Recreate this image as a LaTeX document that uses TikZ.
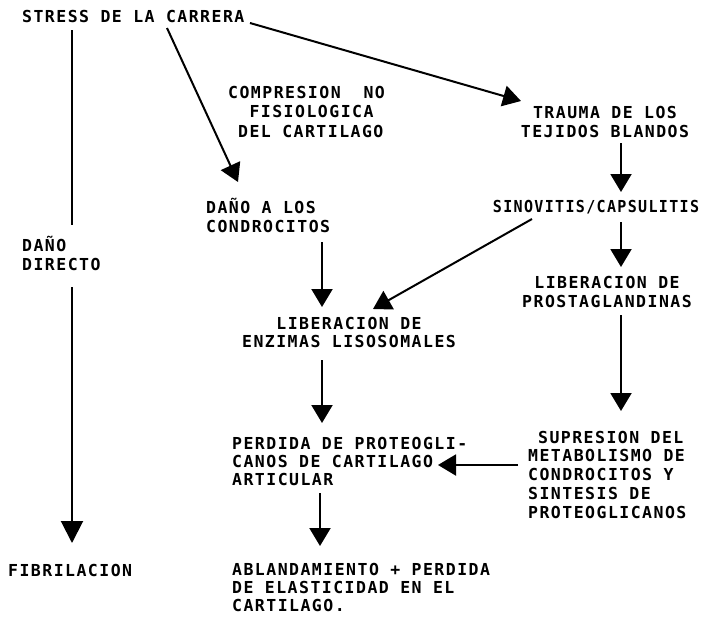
\documentclass[tikz,border=0pt]{standalone}
\usepackage{fontspec}
\usepackage{graphicx}
\newfontfamily\dotfont{DejaVu Sans Mono}[LetterSpace=8.9]
\usetikzlibrary{arrows.meta}
\begin{document}
\begin{tikzpicture}[x=1pt,y=-1pt,
  txt/.style={font=\dotfont\bfseries\fontsize{16.5}{#1}\selectfont, inner sep=0pt, align=left},
  txt/.default=18.8,
  ln/.style={line width=2pt},
  arr/.style={line width=2pt, -{Triangle[length=18pt,width=21pt]}},
  arrA/.style={line width=2pt, -{Triangle[length=22pt,width=22pt]}}]
\fill[white] (0,0) rectangle (704,616);
\useasboundingbox (0,0) rectangle (704,616);

% multi-line nodes: base anchor = baseline of the last line
\node[txt, anchor=base west] (stress) at (22,22) {STRESS DE LA CARRERA};
\node[txt=19.5, anchor=base west] (compr) at (228,137) {COMPRESION~~NO\\\hphantom{MM}FISIOLOGICA\\\hphantom{M}DEL CARTILAGO};
\node[txt=19, anchor=base west] (dano) at (206,232) {DAÑO A LOS\\CONDROCITOS};
\node[txt=19, align=center, anchor=base] (trauma) at (605,137) {TRAUMA DE LOS\\TEJIDOS BLANDOS};
\node[txt, anchor=base] (sino) at (596,212) {\scalebox{0.91}[1]{SINOVITIS/CAPSULITIS}};
\node[txt=19, align=center, anchor=base] (prosta) at (607,307) {LIBERACION DE\\PROSTAGLANDINAS};
\node[txt=19, anchor=base west] (directo) at (22,270) {DAÑO\\DIRECTO};
\node[txt=18, align=center, anchor=base] (enzimas) at (349,347) {LIBERACION DE\\ENZIMAS LISOSOMALES};
\node[txt=18, anchor=base west] (perdida) at (232,485) {PERDIDA DE PROTEOGLI-\\CANOS DE CARTILAGO\\ARTICULAR};
\node[txt=18.75, anchor=base west] (supres) at (528,518) {\hphantom{M}SUPRESION DEL\\METABOLISMO DE\\CONDROCITOS Y\\SINTESIS DE\\PROTEOGLICANOS};
\node[txt=18, anchor=base west] (ablanda) at (232,611) {ABLANDAMIENTO + PERDIDA\\DE ELASTICIDAD EN EL\\CARTILAGO.};
\node[txt, anchor=base west] (fibril) at (8,576) {FIBRILACION};

\draw[ln] ([shift={(50,8)}]stress.base west) -- ([shift={(50,-45)}]directo.base west);
\draw[arrA] ([shift={(50,17)}]directo.base west) -- ([shift={(64,-33)}]fibril.base west);
\draw[arr] ([shift={(145,6)}]stress.base west) -- ([shift={(32,-50)}]dano.base west);
\draw[arr] ([shift={(228,1)}]stress.base west) -- ([shift={(-84,-36)}]trauma.base);
\draw[arr] ([shift={(16,6)}]trauma.base) -- ([shift={(25,-20)}]sino.base);
\draw[arr] ([shift={(25,10)}]sino.base) -- ([shift={(14,-40)}]prosta.base);
\draw[arr] ([shift={(-64,7)}]sino.base) -- ([shift={(24,-38)}]enzimas.base);
\draw[arr] ([shift={(116,10)}]dano.base west) -- ([shift={(-27,-40)}]enzimas.base);
\draw[arr] ([shift={(-27,13)}]enzimas.base) -- ([shift={(90,-62)}]perdida.base west);
\draw[arr] ([shift={(88,8)}]perdida.base west) -- ([shift={(88,-65)}]ablanda.base west);
\draw[arr] ([shift={(14,8)}]prosta.base) -- ([shift={(93,-107)}]supres.base west);
\draw[arr] ([shift={(-10,-53)}]supres.base west) -- ([shift={(206,-20)}]perdida.base west);
\end{tikzpicture}
\end{document}
